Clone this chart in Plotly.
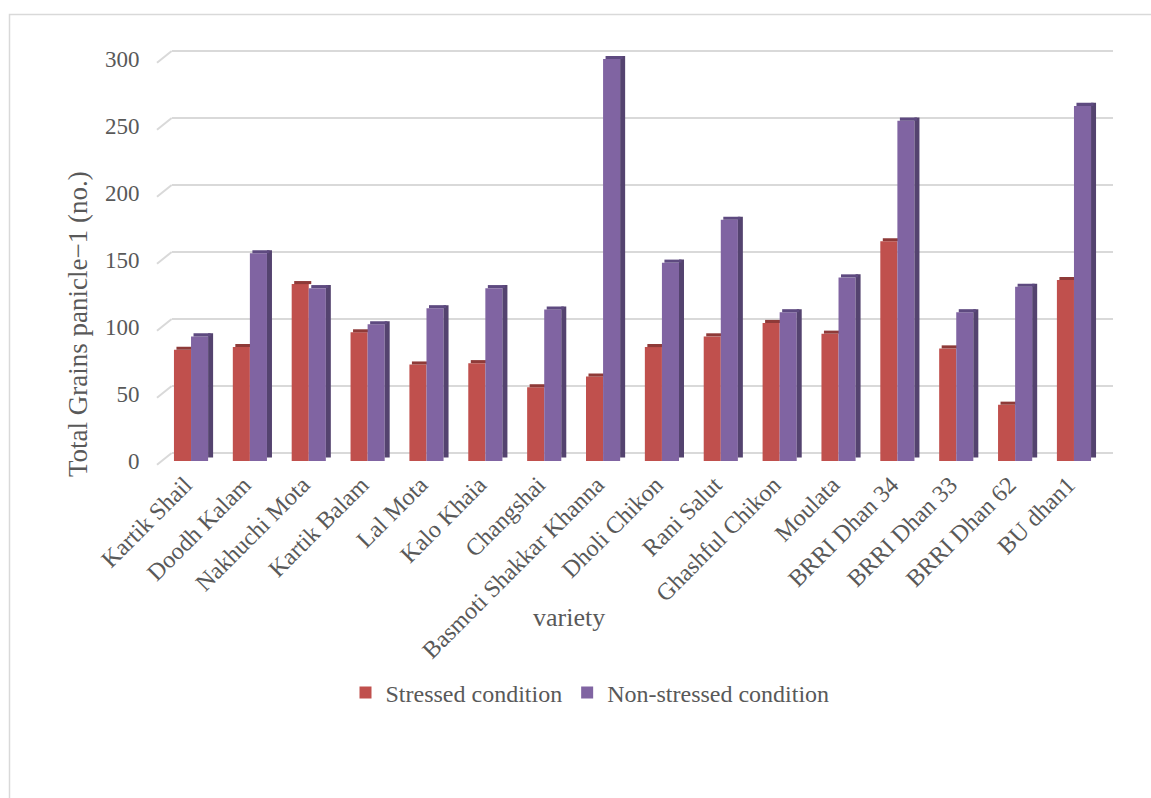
import plotly.graph_objects as go

varieties = ["Kartik Shail", "Doodh Kalam", "Nakhuchi Mota", "Kartik Balam", "Lal Mota",
             "Kalo Khaia", "Changshai", "Basmoti Shakkar Khanna", "Dholi Chikon", "Rani Salut",
             "Ghashful Chikon", "Moulata", "BRRI Dhan 34", "BRRI Dhan 33", "BRRI Dhan 62", "BU dhan1"]
stressed = [83, 85, 132, 96, 72, 73, 55, 63, 85, 93, 103, 95, 164, 84, 42, 135]
non_stressed = [93, 155, 129, 102, 114, 129, 113, 300, 148, 180, 111, 137, 254, 111, 130, 265]
y_ticks = [0, 50, 100, 150, 200, 250, 300]

W = 1151
H = 798
FONT = "Liberation Serif, Times New Roman, serif"
TXT = "#595959"
GRID = "#D9D9D9"
RED = "#C0504D"
RED_DARK = "#8E3A38"
PUR = "#8064A2"
PUR_DARK = "#54436F"

bw = 0.29   # bar width in category units
dd = 0.085  # depth width
cap = 2.3   # cap height in value units
YMAX = 310

fig = go.Figure()

# invisible trace for background gridline subplot
fig.add_trace(go.Scatter(x=[0, 1], y=[0, 0], mode="markers", marker=dict(opacity=0),
                         showlegend=False, hoverinfo="skip", xaxis="x", yaxis="y"))

# red front
fig.add_trace(go.Bar(x=varieties, y=stressed, name="Stressed condition", marker_color=RED,
                     offset=-bw, width=bw, xaxis="x2", yaxis="y2", marker_line_width=0))
# red cap
fig.add_trace(go.Bar(x=varieties, y=[cap] * len(stressed), base=stressed, marker_color=RED_DARK,
                     offset=-bw + dd * 0.5, width=bw, xaxis="x2", yaxis="y2", showlegend=False,
                     marker_line_width=0, hoverinfo="skip"))
# purple front
fig.add_trace(go.Bar(x=varieties, y=non_stressed, name="Non-stressed condition", marker_color=PUR,
                     offset=0, width=bw, xaxis="x2", yaxis="y2", marker_line_width=0))
# purple side
fig.add_trace(go.Bar(x=varieties, y=[v + cap - 2.6 for v in non_stressed], base=[2.6] * len(non_stressed),
                     marker_color=PUR_DARK, offset=bw, width=dd, xaxis="x2", yaxis="y2",
                     showlegend=False, marker_line_width=0, hoverinfo="skip"))
# purple cap
fig.add_trace(go.Bar(x=varieties, y=[cap] * len(non_stressed), base=non_stressed, marker_color="#5E4A80",
                     offset=dd * 0.5, width=bw, xaxis="x2", yaxis="y2", showlegend=False,
                     marker_line_width=0, hoverinfo="skip"))

def px_x(p):
    return p / W

def px_y(p):
    return (H - p) / H

# back wall geometry (pixels)
BACK_BOTTOM = 453.0
BACK_TOP = 37.6
BACK_LEFT = 171.7
scale = (BACK_BOTTOM - BACK_TOP) / YMAX

# side-wall depth lines for each gridline
depth_shapes = []
for v in y_ticks:
    yb = BACK_BOTTOM - v * scale
    depth_shapes.append(dict(type="line", xref="paper", yref="paper",
                             x0=px_x(157), y0=px_y(yb + 11.7), x1=px_x(BACK_LEFT), y1=px_y(yb),
                             line=dict(color=GRID, width=2), layer="below"))

fig.update_layout(
    width=W, height=H,
    margin=dict(l=0, r=0, t=0, b=0),
    paper_bgcolor="white",
    plot_bgcolor="rgba(0,0,0,0)",
    barmode="overlay",
    font=dict(family=FONT, color=TXT, size=24),
    xaxis=dict(domain=[px_x(BACK_LEFT), px_x(1113)], range=[0, 1], visible=False, fixedrange=True),
    yaxis=dict(domain=[px_y(BACK_BOTTOM), px_y(BACK_TOP)], range=[0, YMAX], tickvals=y_ticks,
               showgrid=True, gridcolor=GRID, gridwidth=2, zeroline=True, zerolinecolor=GRID,
               zerolinewidth=2, showticklabels=False, showline=False, anchor="x"),
    xaxis2=dict(domain=[px_x(161.6), px_x(1103.4)], anchor="y2", type="category",
                range=[-0.5, len(varieties) - 0.5], tickangle=-45, showgrid=False, showline=False,
                ticks="", ticklabelshift=-6, ticklabelstandoff=4,
                tickfont=dict(size=24, color=TXT, family=FONT), automargin=False),
    yaxis2=dict(domain=[px_y(461), px_y(45.6)], anchor="x2", range=[0, YMAX],
                tickvals=y_ticks, showgrid=False, zeroline=False,
                showline=False, ticks="", ticklabelstandoff=21,
                tickfont=dict(size=23, color=TXT, family=FONT), automargin=False),
    legend=dict(orientation="h", x=px_x(590), xanchor="center", y=px_y(693), yanchor="middle",
                font=dict(size=24, color=TXT, family=FONT), bgcolor="rgba(0,0,0,0)",
                traceorder="normal", itemsizing="constant"),
    showlegend=True,
    annotations=[
        dict(text="Total Grains panicle\u22121 (no.)", x=px_x(78), y=px_y(324), xref="paper", yref="paper",
             textangle=-90, showarrow=False, font=dict(size=27, color=TXT, family=FONT),
             xanchor="center", yanchor="middle"),
        dict(text="variety", x=px_x(569), y=px_y(617), xref="paper", yref="paper", showarrow=False,
             font=dict(size=26, color=TXT, family=FONT), xanchor="center", yanchor="middle"),
    ],
    shapes=[
        dict(type="rect", xref="paper", yref="paper", x0=px_x(9.5), x1=px_x(1160), y0=px_y(810), y1=px_y(14.5),
             line=dict(color=GRID, width=1.5), fillcolor="rgba(0,0,0,0)", layer="below"),
    ] + depth_shapes,
)

fig.write_html("out.html")
